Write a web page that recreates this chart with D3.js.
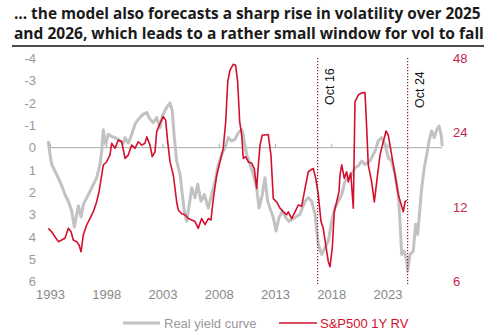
<!DOCTYPE html>
<html>
<head>
<meta charset="utf-8">
<script src="https://cdn.jsdelivr.net/npm/d3@7"></script>
<style>
  body { margin: 0; background: #fff; }
  svg { display: block; font-family: "Liberation Sans", Arial, sans-serif; }
</style>
</head>
<body>
<div id="chart"></div>
<script>
// real yield curve (left axis, inverted), decimal year / value
const yieldYears = [1992.85,1993.0,1993.15,1993.44,1993.74,1994.04,1994.33,1994.63,1994.93,1995.16,1995.37,1995.52,1995.76,1995.96,1996.26,1996.56,1996.85,1997.15,1997.44,1997.6,1997.74,1997.95,1998.18,1998.48,1998.78,1999.07,1999.52,1999.67,1999.96,2000.26,2000.56,2000.85,2001.29,2001.6,2001.89,2002.18,2002.48,2002.78,2002.98,2003.37,2003.67,2003.87,2004.05,2004.26,2004.56,2004.76,2004.94,2005.15,2005.38,2005.6,2005.89,2006.13,2006.42,2006.72,2007.07,2007.37,2007.67,2007.96,2008.26,2008.56,2008.85,2009.15,2009.44,2009.74,2010.04,2010.18,2010.48,2010.78,2011.07,2011.37,2011.58,2011.87,2012.11,2012.35,2012.64,2012.85,2013.09,2013.36,2013.65,2013.95,2014.24,2014.78,2015.22,2015.67,2015.96,2016.26,2016.56,2016.71,2016.85,2017.15,2017.44,2017.74,2018.04,2018.33,2018.63,2018.93,2019.22,2019.52,2019.82,2020.11,2020.4,2020.71,2021.0,2021.44,2021.89,2022.18,2022.48,2022.78,2023.07,2023.37,2023.67,2023.96,2024.11,2024.26,2024.49,2024.7,2024.79,2025.0,2025.29,2025.5,2025.68,2025.89,2026.04,2026.27,2026.49,2026.69,2026.93,2027.16,2027.39,2027.58,2027.76,2027.87];
const yieldValues = [-0.3,0.3,0.75,1.05,1.35,1.7,2.1,2.4,2.85,3.55,3.0,2.6,3.1,2.55,2.25,1.95,1.65,1.35,0.75,0.15,-0.8,-0.15,-0.6,-0.5,-0.45,-0.37,-0.2,-0.45,-0.2,-0.6,-1.05,-1.27,-1.5,-1.57,-1.27,-1.12,-1.35,-0.9,-1.42,-1.8,-2.0,-1.64,-0.45,0.6,1.2,2.1,2.84,3.3,2.54,1.8,2.24,1.64,2.4,2.1,2.7,2.1,1.5,0.75,0.3,0,-0.45,-0.3,-0.37,-0.67,-0.82,-0.52,0.3,0.75,1.2,1.8,2.7,2.1,1.35,2.4,2.84,3.13,3.73,3.13,2.84,3.13,3.3,3.13,2.98,2.4,2.24,2.4,2.98,3.73,4.33,4.78,4.48,4.18,3.28,2.69,2.4,2.1,1.5,1.34,1.2,0.9,0.82,0.6,0.75,0.6,0.15,-0.3,-0.45,-0.15,0.45,0.6,1.2,2.1,3.28,4.78,4.63,5.08,5.52,4.78,4.63,3.43,3.88,2.69,1.8,0.9,0.3,-0.3,-0.75,-0.45,-0.82,-0.97,-0.6,-0.07];

// S&P500 1Y realised vol (right axis, log)
const rvYears = [1992.85,1993.15,1993.44,1993.74,1994.04,1994.33,1994.63,1994.87,1995.07,1995.37,1995.58,1995.76,1995.96,1996.26,1996.56,1996.85,1997.15,1997.36,1997.6,1997.74,1998.04,1998.33,1998.48,1998.78,1999.07,1999.37,1999.67,1999.96,2000.26,2000.56,2000.85,2001.15,2001.44,2001.6,2001.89,2002.09,2002.33,2002.48,2002.78,2003.07,2003.28,2003.46,2003.67,2003.96,2004.11,2004.26,2004.4,2004.71,2005.0,2005.29,2005.6,2005.89,2006.18,2006.48,2006.78,2007.07,2007.31,2007.52,2007.82,2008.11,2008.4,2008.62,2008.8,2009.0,2009.29,2009.5,2009.68,2009.86,2010.04,2010.18,2010.4,2010.63,2010.93,2011.16,2011.37,2011.52,2011.67,2011.87,2012.11,2012.4,2012.64,2012.85,2013.15,2013.44,2013.74,2014.04,2014.18,2014.48,2014.78,2015.07,2015.37,2015.67,2015.96,2016.2,2016.4,2016.62,2016.85,2017.09,2017.29,2017.51,2017.74,2017.89,2018.09,2018.27,2018.48,2018.69,2018.78,2018.93,2019.16,2019.37,2019.52,2019.73,2019.96,2020.11,2020.4,2020.71,2021.0,2021.15,2021.29,2021.59,2021.83,2022.04,2022.33,2022.63,2022.87,2023.07,2023.37,2023.67,2023.96,2024.26,2024.4,2024.56,2024.7];
const rvValues = [9.86,9.55,9.12,8.71,8.84,8.99,9.86,9.55,8.84,8.71,8.44,7.93,9.27,10.17,10.82,11.51,12.63,13.87,16.2,17.78,18.33,19.51,21.76,20.76,22.44,22.08,18.9,19.5,21.4,20.76,22.08,21.4,21.76,23.1,21.4,19.2,20.1,24.2,26.2,27.9,27.0,22.1,18.3,16.2,14.3,12.6,11.7,11.3,11.2,10.8,10.66,10.5,9.86,10.8,10.2,10.8,10.66,13.0,16.2,18.3,20.8,26.6,38.6,43.0,45.4,45.0,38.6,26.6,23.5,18.9,19.2,18.3,18.06,17.2,14.3,17.8,21.4,23.5,23.5,23.6,19.5,13.0,12.6,11.9,11.5,11.2,11.5,10.8,11.5,12.25,12.1,14.3,16.7,17.0,17.2,15.7,13.45,10.5,9.86,8.44,7.23,6.9,8.19,11.5,12.6,13.9,16.2,17.8,15.7,16.7,15.2,16.5,11.9,32.0,34.1,34.8,34.9,25.0,17.8,15.2,12.6,15.2,19.5,22.1,24.4,23.5,19.5,16.2,13.45,12.1,11.5,12.6,12.8];

const yearTicks = [1993, 1998, 2003, 2008, 2013, 2018, 2023];
const leftTicks = [-4, -3, -2, -1, 0, 1, 2, 3, 4, 5, 6];
const rightTicks = [6, 12, 24, 48];
const markers = [{ year: 2016.79, label: "Oct 16" }, { year: 2024.79, label: "Oct 24" }];
const titleLines = [
  "\u2026 the model also forecasts a sharp rise in volatility over 2025",
  "and 2026, which leads to a rather small window for vol to fall"
];

const W = 500, H = 333;
const grey = "#c2c2c2", red = "#d2102e";

const x = d3.scaleLinear().domain([1993, 2023]).range([50, 387.5]);
const yL = d3.scaleLinear().domain([-4, 6]).range([58.3, 281.7]);
const yR = d3.scaleLog().base(2).domain([6, 48]).range([281.7, 58.3]);

const svg = d3.select("#chart").append("svg")
  .attr("width", W)
  .attr("height", H);

svg.append("rect").attr("width", W).attr("height", H).attr("fill", "#fff");

// title
const title = svg.append("g");
titleLines.forEach((t, i) => {
  const txt = title.append("text")
    .attr("x", 14)
    .attr("y", 19 + i * 20)
    .style("font-family", "'Open Sans', 'Noto Sans', sans-serif")
    .style("font-weight", "bold")
    .style("font-size", "16px")
    .attr("fill", "#1a1a1a")
    .text(t);
  const target = i === 0 ? 467 : 470;
  const w = txt.node().getComputedTextLength();
  txt.style("font-size", (16 * target / w).toFixed(2) + "px");
});

svg.append("line")
  .attr("x1", 12).attr("x2", 484)
  .attr("y1", 46).attr("y2", 46)
  .attr("stroke", "#111")
  .attr("stroke-width", 1.5);

// zero line with small year ticks
const y0 = yL(0);
svg.append("line")
  .attr("x1", x(yieldYears[0])).attr("x2", x(yieldYears[yieldYears.length - 1]))
  .attr("y1", y0).attr("y2", y0)
  .attr("stroke", "#aaa")
  .attr("stroke-width", 1);

const zeroTicks = svg.append("g")
  .attr("transform", `translate(0,${y0})`)
  .call(d3.axisTop(x).tickValues(yearTicks).tickSize(4).tickFormat(""));
zeroTicks.select(".domain").remove();
zeroTicks.selectAll("line").attr("stroke", "#aaa");

// axes
const leftAxis = svg.append("g")
  .attr("transform", "translate(36,0)")
  .call(d3.axisLeft(yL).tickValues(leftTicks).tickSize(0).tickPadding(0).tickFormat(d => String(d)));
leftAxis.select(".domain").remove();
leftAxis.selectAll("text")
  .attr("fill", "#999")
  .style("font-size", "13px")
  .style("font-family", "'Liberation Sans', Arial, sans-serif");

const rightAxis = svg.append("g")
  .attr("transform", "translate(453,0)")
  .call(d3.axisRight(yR).tickValues(rightTicks).tickSize(0).tickPadding(0).tickFormat(d3.format("d")));
rightAxis.select(".domain").remove();
rightAxis.selectAll("text")
  .attr("fill", "#c4264a")
  .style("font-size", "13px")
  .style("font-family", "'Liberation Sans', Arial, sans-serif");

const bottomAxis = svg.append("g")
  .attr("transform", "translate(0,287)")
  .call(d3.axisBottom(x).tickValues(yearTicks).tickSize(0).tickPadding(3).tickFormat(d3.format("d")));
bottomAxis.select(".domain").remove();
bottomAxis.selectAll("text")
  .attr("fill", "#888")
  .style("font-size", "13px")
  .style("font-family", "'Liberation Sans', Arial, sans-serif");

// series
const yieldData = yieldYears.map((yr, i) => ({ year: yr, value: yieldValues[i] }));
const rvData = rvYears.map((yr, i) => ({ year: yr, value: rvValues[i] }));

svg.append("path")
  .datum(yieldData)
  .attr("fill", "none")
  .attr("stroke", grey)
  .attr("stroke-width", 3)
  .attr("stroke-linejoin", "round")
  .attr("d", d3.line().x(d => x(d.year)).y(d => yL(d.value)));

svg.append("path")
  .datum(rvData)
  .attr("fill", "none")
  .attr("stroke", red)
  .attr("stroke-width", 1.6)
  .attr("stroke-linejoin", "round")
  .attr("d", d3.line().x(d => x(d.year)).y(d => yR(d.value)));

// event markers
markers.forEach((m, i) => {
  const mx = x(m.year);
  svg.append("line")
    .attr("x1", mx).attr("x2", mx)
    .attr("y1", 58).attr("y2", 284)
    .attr("stroke", "#7a2030")
    .attr("stroke-width", 1.2)
    .attr("stroke-dasharray", "1.2,1.8");
  svg.append("text")
    .attr("transform", `translate(${mx + 16},${i === 0 ? 105 : 108}) rotate(-90)`)
    .attr("fill", "#111")
    .style("font-size", "12.5px")
    .text(m.label);
});

// legend
const legend = svg.append("g").attr("transform", "translate(0,323)");
legend.append("line").attr("x1", 123).attr("x2", 160).attr("stroke", grey).attr("stroke-width", 3);
legend.append("text").attr("x", 164).attr("y", 4.5).attr("fill", "#999").style("font-size", "13px").text("Real yield curve");
legend.append("line").attr("x1", 279).attr("x2", 317).attr("stroke", red).attr("stroke-width", 1.6);
legend.append("text").attr("x", 320).attr("y", 4.5).attr("fill", red).style("font-size", "13px").text("S&P500 1Y RV");
</script>
</body>
</html>
